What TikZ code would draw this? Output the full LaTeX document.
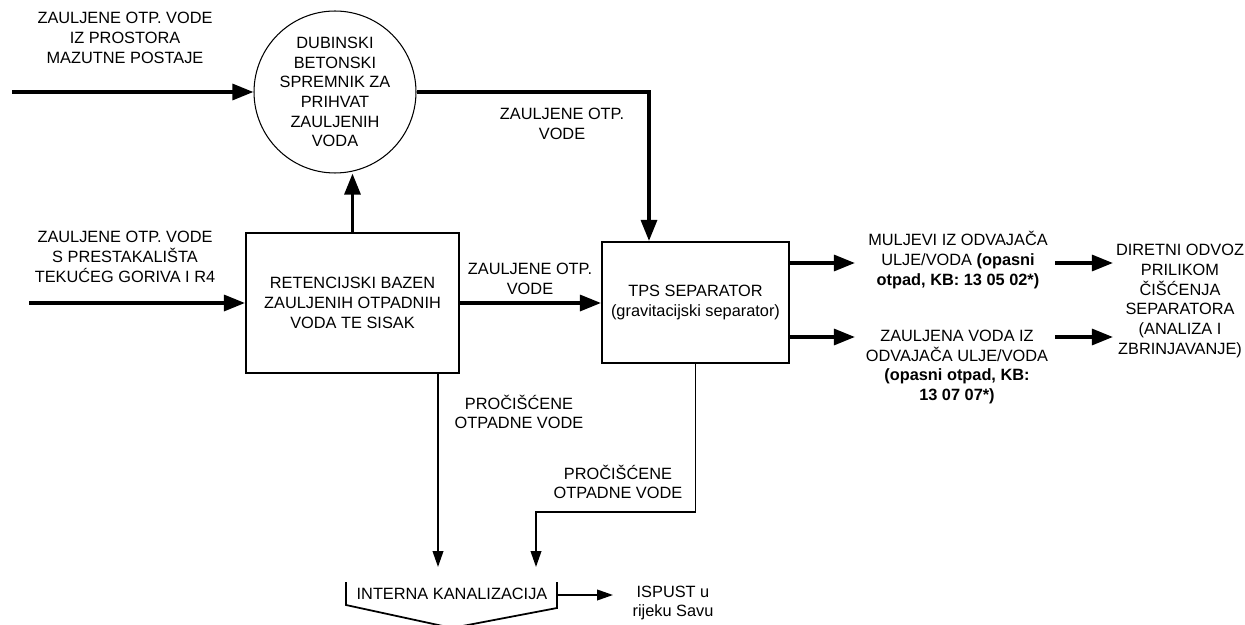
\documentclass[tikz,border=0pt]{standalone}
\usepackage{fontspec}
\setmainfont{Liberation Sans}
\usetikzlibrary{arrows.meta, positioning}

\tikzset{
  flow/.style={line width=2.1pt, -{Triangle[length=12pt,width=9pt]}},
  thinflow/.style={line width=1pt, -{Triangle[length=9pt,width=6pt]}},
  unit/.style={draw, line width=1.1pt, align=center, inner sep=0pt},
  lbl/.style={align=center, inner sep=0pt},
}

\begin{document}
\begin{tikzpicture}[x=0.02cm, y=-0.02cm, font=\fontsize{9.3}{11.2}\selectfont]
\useasboundingbox (0,0) rectangle (1245,625);

% Tank and boxes
\node[unit, circle, line width=0.6pt, minimum size=3.24cm] (tank) at (335,92)
  {DUBINSKI\\BETONSKI\\SPREMNIK ZA\\PRIHVAT\\ZAULJENIH\\VODA};
\node[unit, minimum width=4.26cm, minimum height=2.8cm] (retbox) at (352.5,303)
  {RETENCIJSKI BAZEN\\ZAULJENIH OTPADNIH\\VODA TE SISAK};
\node[unit, minimum width=3.74cm, minimum height=2.42cm] (tps) at (695.5,302.5)
  {TPS SEPARATOR\\(gravitacijski separator)};

% Labels
\node[lbl] (toplbl) at (125,38) {ZAULJENE OTP. VODE\\IZ PROSTORA\\MAZUTNE POSTAJE};
\node[lbl] (leftlbl) at (125,257) {ZAULJENE OTP. VODE\\S PRESTAKALIŠTA\\TEKUĆEG GORIVA I R4};
\node[lbl] (pipelbl) at (562,124) {ZAULJENE OTP.\\VODE};
\node[lbl] (midlbl) at (530,279) {ZAULJENE OTP.\\VODE};
\node[lbl] (mulj) at (958,260) {MULJEVI IZ ODVAJAČA\\ULJE/VODA \textbf{(opasni}\\\textbf{otpad, KB: 13 05 02*)}};
\node[lbl] (zulvoda) at (957,367) {ZAULJENA VODA IZ\\ODVAJAČA ULJE/VODA\\\textbf{(opasni otpad, KB:}\\\textbf{13 07 07*)}};
\node[lbl] (odvoz) at (1180,301) {DIRETNI ODVOZ\\PRILIKOM\\ČIŠĆENJA\\SEPARATORA\\(ANALIZA I\\ZBRINJAVANJE)};
\node[lbl] (proc1) at (519,412) {PROČIŠĆENE\\OTPADNE VODE};
\node[lbl] (proc2) at (618,482) {PROČIŠĆENE\\OTPADNE VODE};
\node[lbl] (kanal) at (452,594) {INTERNA KANALIZACIJA};
\node[lbl] (ispust) at (673,603) {ISPUST u\\rijeku Savu};

% Free ends
\coordinate (in1) at (12,92);
\coordinate (in2) at (29,303);
\coordinate (drop) at (649,92);
\coordinate (t1) at (855,263);
\coordinate (t2) at (855,337);
\coordinate (s1) at (1055,263);
\coordinate (e1) at (1113,263);
\coordinate (s2) at (1055,337);
\coordinate (e2) at (1113,337);
\coordinate (k1) at (438,567);
\coordinate (bend) at (536,512);
\coordinate (k2) at (536,567);
\coordinate (kr) at (557,595);
\coordinate (ko) at (613,595);

% Thick flows
\draw[flow] (in1) -- (tank.west);
\draw[flow] (in2) -- (retbox.west);
\draw[flow] (retbox.north) -- (retbox.north |- tank.south);
\draw[flow] (tank.east) -- (drop) -- (drop |- tps.north);
\draw[flow] (retbox.east) -- (retbox.east -| tps.west);
\draw[flow] (t1 -| tps.east) -- (t1);
\draw[flow] (t2 -| tps.east) -- (t2);
\draw[flow] (s1) -- (e1);
\draw[flow] (s2) -- (e2);

% Thin flows to sewer
\draw[thinflow] (k1 |- retbox.south) -- (k1);
\draw[thinflow] (tps.south) |- (bend) -- (k2);
\draw[line width=1pt] (346,582) -- (346,605) -- (452,628) -- (557,608) -- (557,582);
\draw[thinflow] (kr) -- (ko);
\end{tikzpicture}
\end{document}
